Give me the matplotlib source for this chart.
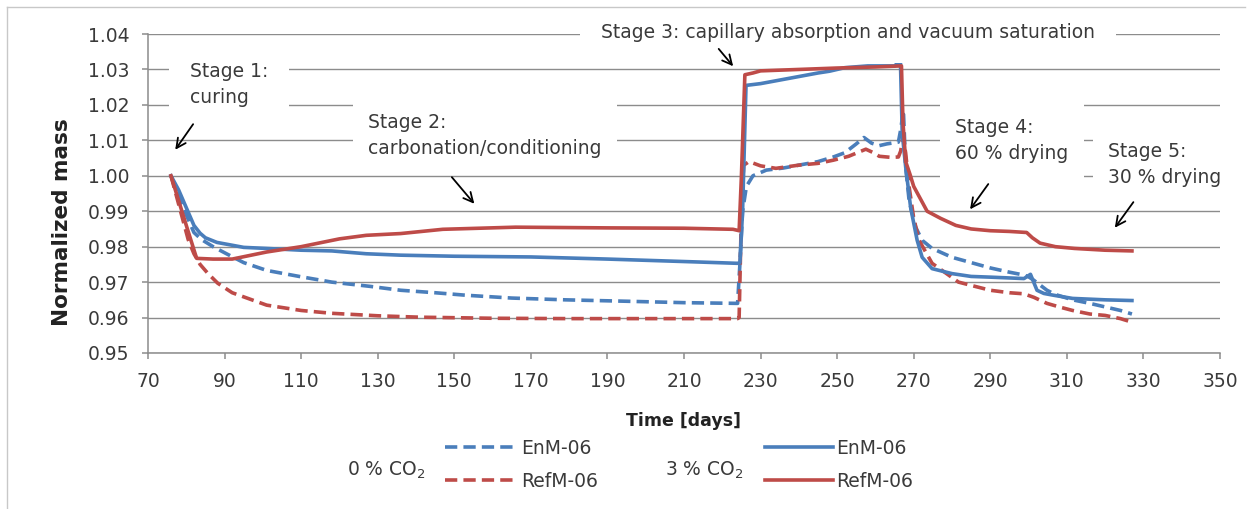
import matplotlib
matplotlib.use('Agg')
import matplotlib.pyplot as plt
from matplotlib.lines import Line2D

plt.rcParams['font.family'] = ['DejaVu Sans']
plt.rcParams['mathtext.default'] = 'regular'

# 0 % CO2, EnM-06 (blue dashed)
enm0_days = [76, 78, 80, 82, 84, 87, 90.5, 95, 101, 110, 118, 128, 136, 145, 153, 165, 179, 195, 210, 224,
             224.6, 225.3, 226.3, 228, 231.5, 236, 240, 245, 249, 252, 255, 257, 259, 261, 263, 266, 266.6,
             267.3, 267.9, 268.8, 270.5, 272.2, 274.8, 280, 285, 290, 295, 298.8, 300, 301.4, 304.8, 307,
             311.5, 316, 320, 324, 327]
enm0_mass = [1.000, 0.994, 0.989, 0.984, 0.982, 0.980, 0.978, 0.9755, 0.9733, 0.9715, 0.970, 0.9688, 0.9677,
             0.967, 0.9663, 0.9655, 0.965, 0.9646, 0.9642, 0.964,
             0.975, 0.990, 0.997, 1.000, 1.0016, 1.0022, 1.003, 1.004, 1.0053, 1.0065, 1.009, 1.0108, 1.0092,
             1.0085, 1.009, 1.0095, 1.013,
             1.0185, 1.0025, 0.993, 0.9855, 0.9818, 0.9795, 0.977, 0.9755, 0.974, 0.9728, 0.972, 0.9715,
             0.9705, 0.9677, 0.9665, 0.965, 0.964, 0.963, 0.962, 0.961]

# 0 % CO2, RefM-06 (red dashed)
ref0_days = [76, 77.5, 79, 80.5, 82, 83.6, 85.6, 88.2, 92, 101, 110, 118, 130, 141, 160, 180, 200, 224,
             224.4, 225.0, 225.6, 227, 230, 234, 240, 245, 249, 253, 257.5, 259.5, 261, 264, 266, 266.6,
             267.2, 267.9, 268.8, 270, 271.4, 274.8, 277.4, 281.7, 286, 290, 295, 298.8, 301.4, 304.8,
             308, 311.5, 316, 320, 324, 327]
ref0_mass = [1.000, 0.994, 0.988, 0.982, 0.978, 0.975, 0.9725, 0.9697, 0.967, 0.9635, 0.962, 0.9612, 0.9605,
             0.9601, 0.9598, 0.9597, 0.9597, 0.9597,
             0.960, 0.990, 1.003, 1.004, 1.0028, 1.0021, 1.003, 1.0035, 1.0044, 1.0055, 1.0075, 1.0065,
             1.0055, 1.0052, 1.0053, 1.007,
             1.011, 1.0064, 0.9969, 0.988, 0.9818, 0.9753, 0.9733, 0.970, 0.9688, 0.9677, 0.967, 0.9667,
             0.9657, 0.964, 0.963, 0.962, 0.961, 0.9606, 0.9597, 0.9587]

# 3 % CO2, EnM-06 (blue solid)
enm3_days = [76, 78, 80, 82, 83.6, 85, 88, 92, 95, 101, 110, 118, 127, 136, 150, 170, 190, 213, 224,
             224.6, 225.3, 226.2, 230, 235, 240, 245, 248, 252, 258, 265, 266, 266.5,
             267, 267.9, 269.2, 270.9, 272.2, 274.8, 280, 285, 290, 298.8, 300.5, 302.2, 304, 306.5,
             311.5, 320, 327]
enm3_mass = [1.000, 0.996, 0.991, 0.986, 0.9838, 0.9825, 0.9812, 0.9804, 0.9798, 0.9795, 0.979, 0.9788,
             0.978, 0.9776, 0.9773, 0.9771, 0.9765, 0.9757, 0.9753,
             0.9755, 0.990, 1.0255, 1.026, 1.027, 1.028, 1.029, 1.0295, 1.0305, 1.031, 1.031, 1.032, 1.0335,
             1.012, 1.0025, 0.991, 0.9818, 0.977, 0.9738, 0.9724, 0.9716, 0.9714, 0.971, 0.9722, 0.9677,
             0.9668, 0.9663, 0.9654, 0.965, 0.9648]

# 3 % CO2, RefM-06 (red solid)
ref3_days = [76, 78, 80, 82.7, 87, 92, 101, 110, 120, 127, 136, 147, 166, 190, 210, 222.8, 224.4,
             225.0, 225.9, 228, 230, 240, 250, 260, 266.8,
             267.2, 267.9, 269, 270, 271.5, 273.5, 277, 281, 285, 290, 295, 299.5, 301, 303, 307, 312,
             320, 327]
ref3_mass = [1.000, 0.993, 0.986, 0.9767, 0.9765, 0.9765, 0.9785, 0.980, 0.9822, 0.9832, 0.9837, 0.9849,
             0.9855, 0.9853, 0.9852, 0.9849, 0.9845,
             1.000, 1.0285, 1.029, 1.0296, 1.030, 1.0304, 1.0307, 1.031,
             1.015, 1.004, 1.0005, 0.997, 0.994, 0.990, 0.988, 0.986, 0.985, 0.9845, 0.9843, 0.984, 0.9825,
             0.981, 0.980, 0.9795, 0.979, 0.9788]

x_ticks = list(range(70, 351, 20))
y_ticks = [0.95, 0.96, 0.97, 0.98, 0.99, 1.00, 1.01, 1.02, 1.03, 1.04]

blue = '#4A7EBB'
red = '#BE4B48'
gray = '#8C8C8C'
txt = '#3A3A3A'
W, H = 1252, 509
fs = 13.5

fig = plt.figure(figsize=(W / 100, H / 100), dpi=100)
ax = fig.add_axes([148 / W, 1 - 353 / H, 1072 / W, 319 / H])

lw = 2.6
dash = (3.4, 1.7)
ax.plot(enm0_days, enm0_mass, color=blue, lw=lw, dashes=dash)
ax.plot(ref0_days, ref0_mass, color=red, lw=lw, dashes=dash)
ax.plot(enm3_days, enm3_mass, color=blue, lw=lw)
ax.plot(ref3_days, ref3_mass, color=red, lw=lw)

ax.set_xlim(70, 350)
ax.set_ylim(0.95, 1.04)
ax.set_xticks(x_ticks)
ax.set_yticks(y_ticks)
ax.set_yticklabels([f'{v:.2f}' for v in y_ticks])
ax.yaxis.grid(True, color=gray, lw=1.0)
ax.set_axisbelow(True)
for s in ['top', 'right']:
    ax.spines[s].set_visible(False)
for s in ['left', 'bottom']:
    ax.spines[s].set_color(gray)
    ax.spines[s].set_linewidth(1.1)
ax.tick_params(direction='out', length=4.5, width=1.1, color=gray, labelcolor=txt, labelsize=fs)
ax.tick_params(axis='y', pad=9)
ax.tick_params(axis='x', pad=9)

ax.set_xlabel('Time [days]', fontsize=12.5, fontweight='bold', color='#222222')
ax.xaxis.set_label_coords(0.5, -0.185)
ax.set_ylabel('Normalized mass', fontsize=15.5, fontweight='bold', color='#222222')
ax.yaxis.set_label_coords(-0.071, 0.41)

# stage annotations
def box(pad):
    return dict(facecolor='white', edgecolor='none', pad=pad)

tkw = dict(fontsize=fs, color=txt, ha='left', va='top', linespacing=1.45)
ax.text(81.0, 1.0321, 'Stage 1:\ncuring', bbox=box(15), **tkw)
ax.text(127.5, 1.0177, 'Stage 2:\ncarbonation/conditioning', bbox=box(11), **tkw)
ax.text(188.3, 1.0403, 'Stage 3: capillary absorption and vacuum saturation', fontsize=fs, color=txt,
        ha='left', va='center', bbox=box(15), clip_on=False)
ax.text(280.8, 1.0163, 'Stage 4:\n60 % drying', bbox=box(11), **tkw)
ax.text(320.7, 1.0096, 'Stage 5:\n30 % drying', bbox=box(11), **tkw)

akw = dict(arrowstyle='->', color='black', lw=1.3, mutation_scale=17)
arrows = [((82.2, 1.0152), (76.7, 1.0067)),
          ((148.9, 1.0002), (155.7, 0.9915)),
          ((218.6, 1.0364), (223.3, 1.0303)),
          ((289.9, 0.9983), (284.3, 0.9899)),
          ((327.8, 0.9932), (322.1, 0.9847))]
for start, end in arrows:
    ax.annotate('', xy=end, xytext=start, arrowprops=akw, annotation_clip=False)

# legend groups
h0 = [Line2D([], [], color=blue, lw=lw, dashes=dash),
      Line2D([], [], color=red, lw=lw, dashes=dash)]
h3 = [Line2D([], [], color=blue, lw=lw),
      Line2D([], [], color=red, lw=lw)]
labels = ['EnM-06', 'RefM-06']
lkw = dict(frameon=False, loc='center left', fontsize=fs, borderpad=0, borderaxespad=0,
           handletextpad=0.2, labelspacing=0.75, bbox_transform=fig.transFigure)
for text_left, handles, hx, hlen, lab in [(347, h0, 445, 3.85, '0 % CO$_2$'),
                                           (665, h3, 765, 3.6, '3 % CO$_2$')]:
    leg = fig.legend(handles=handles, labels=labels, bbox_to_anchor=(hx / W, 1 - 465 / H),
                     handlelength=hlen, **lkw)
    for t in leg.get_texts():
        t.set_color(txt)
    fig.text(text_left / W, 1 - 470 / H, lab, fontsize=fs, color=txt, ha='left', va='center')

# outer frame (top and left edges visible)
fig.add_artist(Line2D([7 / W, 7 / W], [0, 1 - 7 / H], transform=fig.transFigure, color='#C8C8C8', lw=1))
fig.add_artist(Line2D([7 / W, 1245 / W], [1 - 7 / H, 1 - 7 / H], transform=fig.transFigure,
                      color='#C8C8C8', lw=1))

fig.savefig('out.png', dpi=100, facecolor='white')
